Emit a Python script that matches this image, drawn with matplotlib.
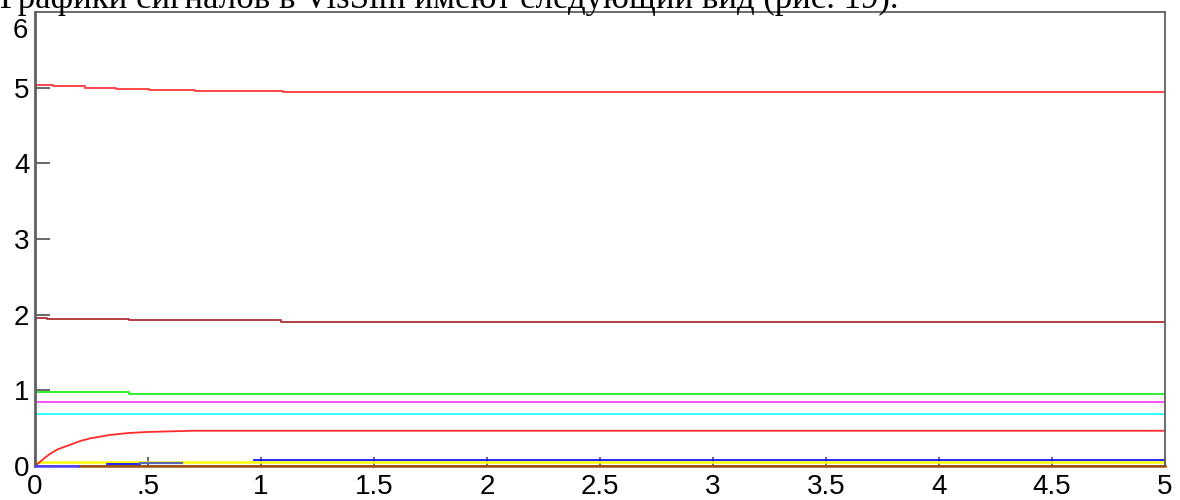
import matplotlib
matplotlib.use("Agg")
import matplotlib.pyplot as plt
from matplotlib.transforms import blended_transform_factory

# caption above the plot (cut off at the top of the picture)
caption = "Графики сигналов в VisSim имеют следующий вид (рис. 19)."

x_ticks = [0, 0.5, 1, 1.5, 2, 2.5, 3, 3.5, 4, 4.5, 5]
x_labels = ["0", ".5", "1", "1.5", "2", "2.5", "3", "3.5", "4", "4.5", "5"]
y_ticks = [0, 1, 2, 3, 4, 5]
y_labels = ["0", "1", "2", "3", "4", "5"]

# step signals (time, value)
red_top_t = [0, 0.081, 0.221, 0.359, 0.506, 0.706, 1.097, 5]
red_top_v = [5.03, 5.017, 5.0, 4.985, 4.973, 4.958, 4.942, 4.942]

darkred_t = [0, 0.053, 0.416, 1.09, 5]
darkred_v = [1.962, 1.94, 1.925, 1.905, 1.905]

green_t = [0, 0.416, 5]
green_v = [0.972, 0.952, 0.952]

magenta_t = [0, 5]
magenta_v = [0.848, 0.848]

cyan_t = [0, 5]
cyan_v = [0.686, 0.686]

# rising curve
red_rise_t = [0, 0.02, 0.04, 0.066, 0.10, 0.155, 0.20, 0.244, 0.33, 0.41, 0.50, 0.60, 0.70, 5]
red_rise_v = [0, 0.05, 0.10, 0.16, 0.22, 0.28, 0.33, 0.365, 0.41, 0.435, 0.45, 0.458, 0.466, 0.466]

yellow_t = [0, 5]
yellow_v = [0.055, 0.055]

purple_t = [0, 0.19]
purple_v = [0.0, 0.0]

blue1_t = [0.32, 0.465]
blue1_v = [0.026, 0.026]

slate_t = [0.465, 0.65]
slate_v = [0.044, 0.044]

blue2_t = [0.97, 5]
blue2_v = [0.077, 0.077]

brown_t = [0.19, 5]
brown_v = [0.0, 0.0]

fig = plt.figure(figsize=(11.8, 5), dpi=100)
ax = fig.add_axes([35 / 1180, 1 - 466 / 500, 1130 / 1180, 454 / 500])

lw = 1.3
ax.plot(yellow_t, yellow_v, color="#ffff00", lw=lw + 0.5)
ax.plot(brown_t, brown_v, color="#a0500a", lw=lw + 0.5, zorder=4, clip_on=False)
ax.plot(purple_t, purple_v, color="#5040ff", lw=lw + 0.5, zorder=4, clip_on=False)
ax.plot(blue1_t, blue1_v, color="#1010ff", lw=lw)
ax.plot(slate_t, slate_v, color="#5868b8", lw=lw + 0.3)
ax.plot(blue2_t, blue2_v, color="#1010ff", lw=lw)
ax.plot(red_rise_t, red_rise_v, color="#ff2a2a", lw=lw)
ax.plot(cyan_t, cyan_v, color="#20ffff", lw=lw)
ax.plot(magenta_t, magenta_v, color="#ff40ff", lw=lw)
ax.plot(green_t, green_v, color="#20ee20", lw=lw, drawstyle="steps-post")
ax.plot(darkred_t, darkred_v, color="#b03030", lw=lw, drawstyle="steps-post")
ax.plot(red_top_t, red_top_v, color="#ff3a3a", lw=lw, drawstyle="steps-post")

ax.set_xlim(0, 5)
ax.set_ylim(0, 6)
ax.set_xticks(x_ticks)
ax.set_xticklabels(x_labels, fontsize=20, family="Liberation Sans")
ax.set_yticks(y_ticks)
ax.set_yticklabels(y_labels, fontsize=20, family="Liberation Sans")
ax.tick_params(axis="y", direction="in", length=11, width=1.1, color="#404040", pad=4)
ax.tick_params(axis="x", direction="in", length=6.5, width=1.1, color="#404040", pad=6)

# top label sits a bit lower than its position
trans = blended_transform_factory(ax.transAxes, ax.transData)
ax.text(-0.0062, 5.75, "6", transform=trans, ha="right", va="center",
        fontsize=20, family="Liberation Sans")

for side in ["top", "right", "bottom"]:
    ax.spines[side].set_color("#606060")
    ax.spines[side].set_linewidth(1.3)
ax.spines["left"].set_color("#606060")
ax.spines["left"].set_linewidth(2)

fig.text(0.0, 1 - 8 / 500, caption, ha="left", va="baseline",
         fontsize=25, family="Liberation Serif")

fig.savefig("out.png", dpi=100)
